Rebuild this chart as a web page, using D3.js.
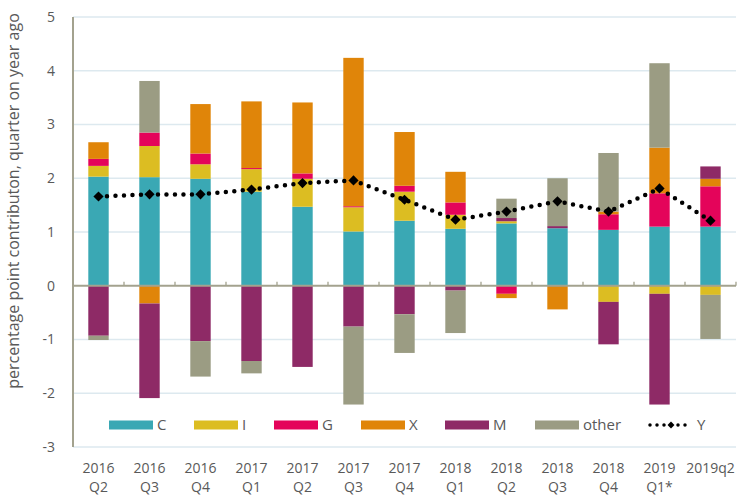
<!DOCTYPE html>
<html><head><meta charset="utf-8">
<script src="https://cdn.jsdelivr.net/npm/d3@7"></script>
<style>
html,body{margin:0;padding:0;background:#fff;}
svg{display:block;font-family:"Open Sans","Segoe UI",sans-serif;}
</style></head>
<body>
<svg id="chart" width="750" height="504"></svg>
<script>
const categories = [["2016","Q2"],["2016","Q3"],["2016","Q4"],["2017","Q1"],["2017","Q2"],["2017","Q3"],["2017","Q4"],["2018","Q1"],["2018","Q2"],["2018","Q3"],["2018","Q4"],["2019","Q1*"],["2019q2",""]];
const C =     [2.03, 2.02, 1.99, 1.75, 1.47, 1.01, 1.21, 1.06, 1.16, 1.07, 1.04, 1.10, 1.10];
const I =     [0.20, 0.58, 0.27, 0.42, 0.52, 0.45, 0.54, 0.26, 0.04, 0.00, -0.30, -0.15, -0.17];
const G =     [0.13, 0.25, 0.20, 0.02, 0.10, 0.02, 0.11, 0.23, -0.15, 0.00, 0.29, 0.62, 0.75];
const X =     [0.31, -0.33, 0.92, 1.24, 1.32, 2.76, 1.00, 0.57, -0.08, -0.44, 0.05, 0.85, 0.14];
const M =     [-0.93, -1.76, -1.03, -1.40, -1.51, -0.76, -0.53, -0.09, 0.06, 0.04, -0.79, -2.06, 0.23];
const other = [-0.08, 0.96, -0.66, -0.23, 0.00, -1.45, -0.72, -0.79, 0.36, 0.89, 1.09, 1.57, -0.82];
const Y =     [1.66, 1.70, 1.70, 1.79, 1.91, 1.96, 1.60, 1.23, 1.38, 1.57, 1.38, 1.81, 1.21];
const yTicks = [-3,-2,-1,0,1,2,3,4,5];
const seriesNames = ["C","I","G","X","M","other"];
const seriesColors = ["#3aa8b4","#dcbd22","#e4045a","#e08509","#8e2a66","#9b9c83"];
const yTitle = "percentage point contributon, quarter on year ago";

const seriesData = {C, I, G, X, M, other};
const rows = categories.map((c,i)=>{
  const r = {key: c.join(" "), idx: i};
  seriesNames.forEach(n=> r[n] = seriesData[n][i]);
  return r;
});

const svg = d3.select("#chart");
const pL = 73, pR = 736, pT = 17, pB = 447;
const x = d3.scaleBand().domain(rows.map(r=>r.key)).range([pL,pR]).paddingInner(0.6).paddingOuter(0.3);
const y = d3.scaleLinear().domain([-3,5]).range([pB, pT]);
const color = d3.scaleOrdinal().domain(seriesNames).range(seriesColors);

// gridlines
svg.append("g").selectAll("line").data(yTicks.filter(t=>t!==0)).join("line")
  .attr("x1", pL).attr("x2", pR)
  .attr("y1", d=>y(d)).attr("y2", d=>y(d))
  .attr("stroke", "#dde9ef").attr("stroke-width", 1.3);

// stacked bars
const stack = d3.stack().keys(seriesNames).offset(d3.stackOffsetDiverging);
const stacked = stack(rows);
svg.append("g").selectAll("g").data(stacked).join("g")
  .attr("fill", d=>color(d.key))
  .selectAll("rect").data(d=>d).join("rect")
  .attr("x", d=>x(d.data.key))
  .attr("width", x.bandwidth())
  .attr("y", d=>y(Math.max(d[0],d[1])))
  .attr("height", d=>Math.abs(y(d[0])-y(d[1])));

// axes
const axisColor = "#a3a28e";
const band = (pR-pL)/categories.length;
svg.append("line").attr("x1", pL).attr("x2", pR).attr("y1", y(0)).attr("y2", y(0))
  .attr("stroke", axisColor).attr("stroke-width", 2);
svg.append("g").selectAll("line").data(d3.range(1, categories.length+1)).join("line")
  .attr("x1", d=>pL + d*band).attr("x2", d=>pL + d*band)
  .attr("y1", y(0)).attr("y2", y(0)-4)
  .attr("stroke", axisColor).attr("stroke-width", 1.3);
svg.append("line").attr("x1", pL).attr("x2", pL).attr("y1", pT).attr("y2", pB)
  .attr("stroke", axisColor).attr("stroke-width", 2);

// y tick labels
svg.append("g").selectAll("text").data(yTicks).join("text")
  .attr("x", 55).attr("y", d=>y(d)).attr("dy", "0.35em")
  .attr("text-anchor", "end").attr("font-size", 14).attr("fill", "#595959")
  .text(d=>d);

// x labels
const xl = svg.append("g").selectAll("text").data(rows).join("text")
  .attr("x", d=>x(d.key)+x.bandwidth()/2)
  .attr("text-anchor", "middle").attr("font-size", 14).attr("fill", "#595959");
xl.append("tspan").attr("x", d=>x(d.key)+x.bandwidth()/2).attr("y", 473).text(d=>categories[d.idx][0]);
xl.append("tspan").attr("x", d=>x(d.key)+x.bandwidth()/2).attr("y", 492).text(d=>categories[d.idx][1]);

// y title
svg.append("text").attr("transform", "translate(13,201) rotate(-90)")
  .attr("text-anchor", "middle").attr("dy", "0.35em").attr("font-size", 16).attr("fill", "#595959")
  .text(yTitle);

// Y line
const line = d3.line().x((d,i)=>x(rows[i].key)+x.bandwidth()/2).y(d=>y(d));
svg.append("path").datum(Y).attr("d", line).attr("fill","none")
  .attr("stroke","#000").attr("stroke-width",4.5).attr("stroke-linecap","round")
  .attr("stroke-dasharray","0,8.5");
const diamond = d3.symbol().type(d3.symbolSquare).size(52);
svg.append("g").selectAll("path").data(Y).join("path")
  .attr("d", diamond)
  .attr("transform", (d,i)=>`translate(${x(rows[i].key)+x.bandwidth()/2},${y(d)}) rotate(45)`)
  .attr("fill","#000");

// legend
const legY = 425;
const legItems = [
  {name:"C", sx:109}, {name:"I", sx:194}, {name:"G", sx:274}, {name:"X", sx:361},
  {name:"M", sx:445}, {name:"other", sx:535}
];
const lg = svg.append("g");
legItems.forEach(it=>{
  lg.append("rect").attr("x", it.sx).attr("y", legY-4.5).attr("width", 44).attr("height", 9)
    .attr("fill", color(it.name));
  lg.append("text").attr("x", it.sx+48).attr("y", legY).attr("dy","0.35em")
    .attr("font-size", 15).attr("fill","#595959").text(it.name);
});
lg.append("line").attr("x1", 650).attr("x2", 692).attr("y1", legY).attr("y2", legY)
  .attr("stroke","#000").attr("stroke-width",3.5).attr("stroke-linecap","round")
  .attr("stroke-dasharray","0,7");
lg.append("path").attr("d", d3.symbol().type(d3.symbolSquare).size(24))
  .attr("transform", `translate(671,${legY}) rotate(45)`).attr("fill","#000");
lg.append("text").attr("x", 697).attr("y", legY).attr("dy","0.35em")
  .attr("font-size", 15).attr("fill","#595959").text("Y");
</script>
</body></html>
